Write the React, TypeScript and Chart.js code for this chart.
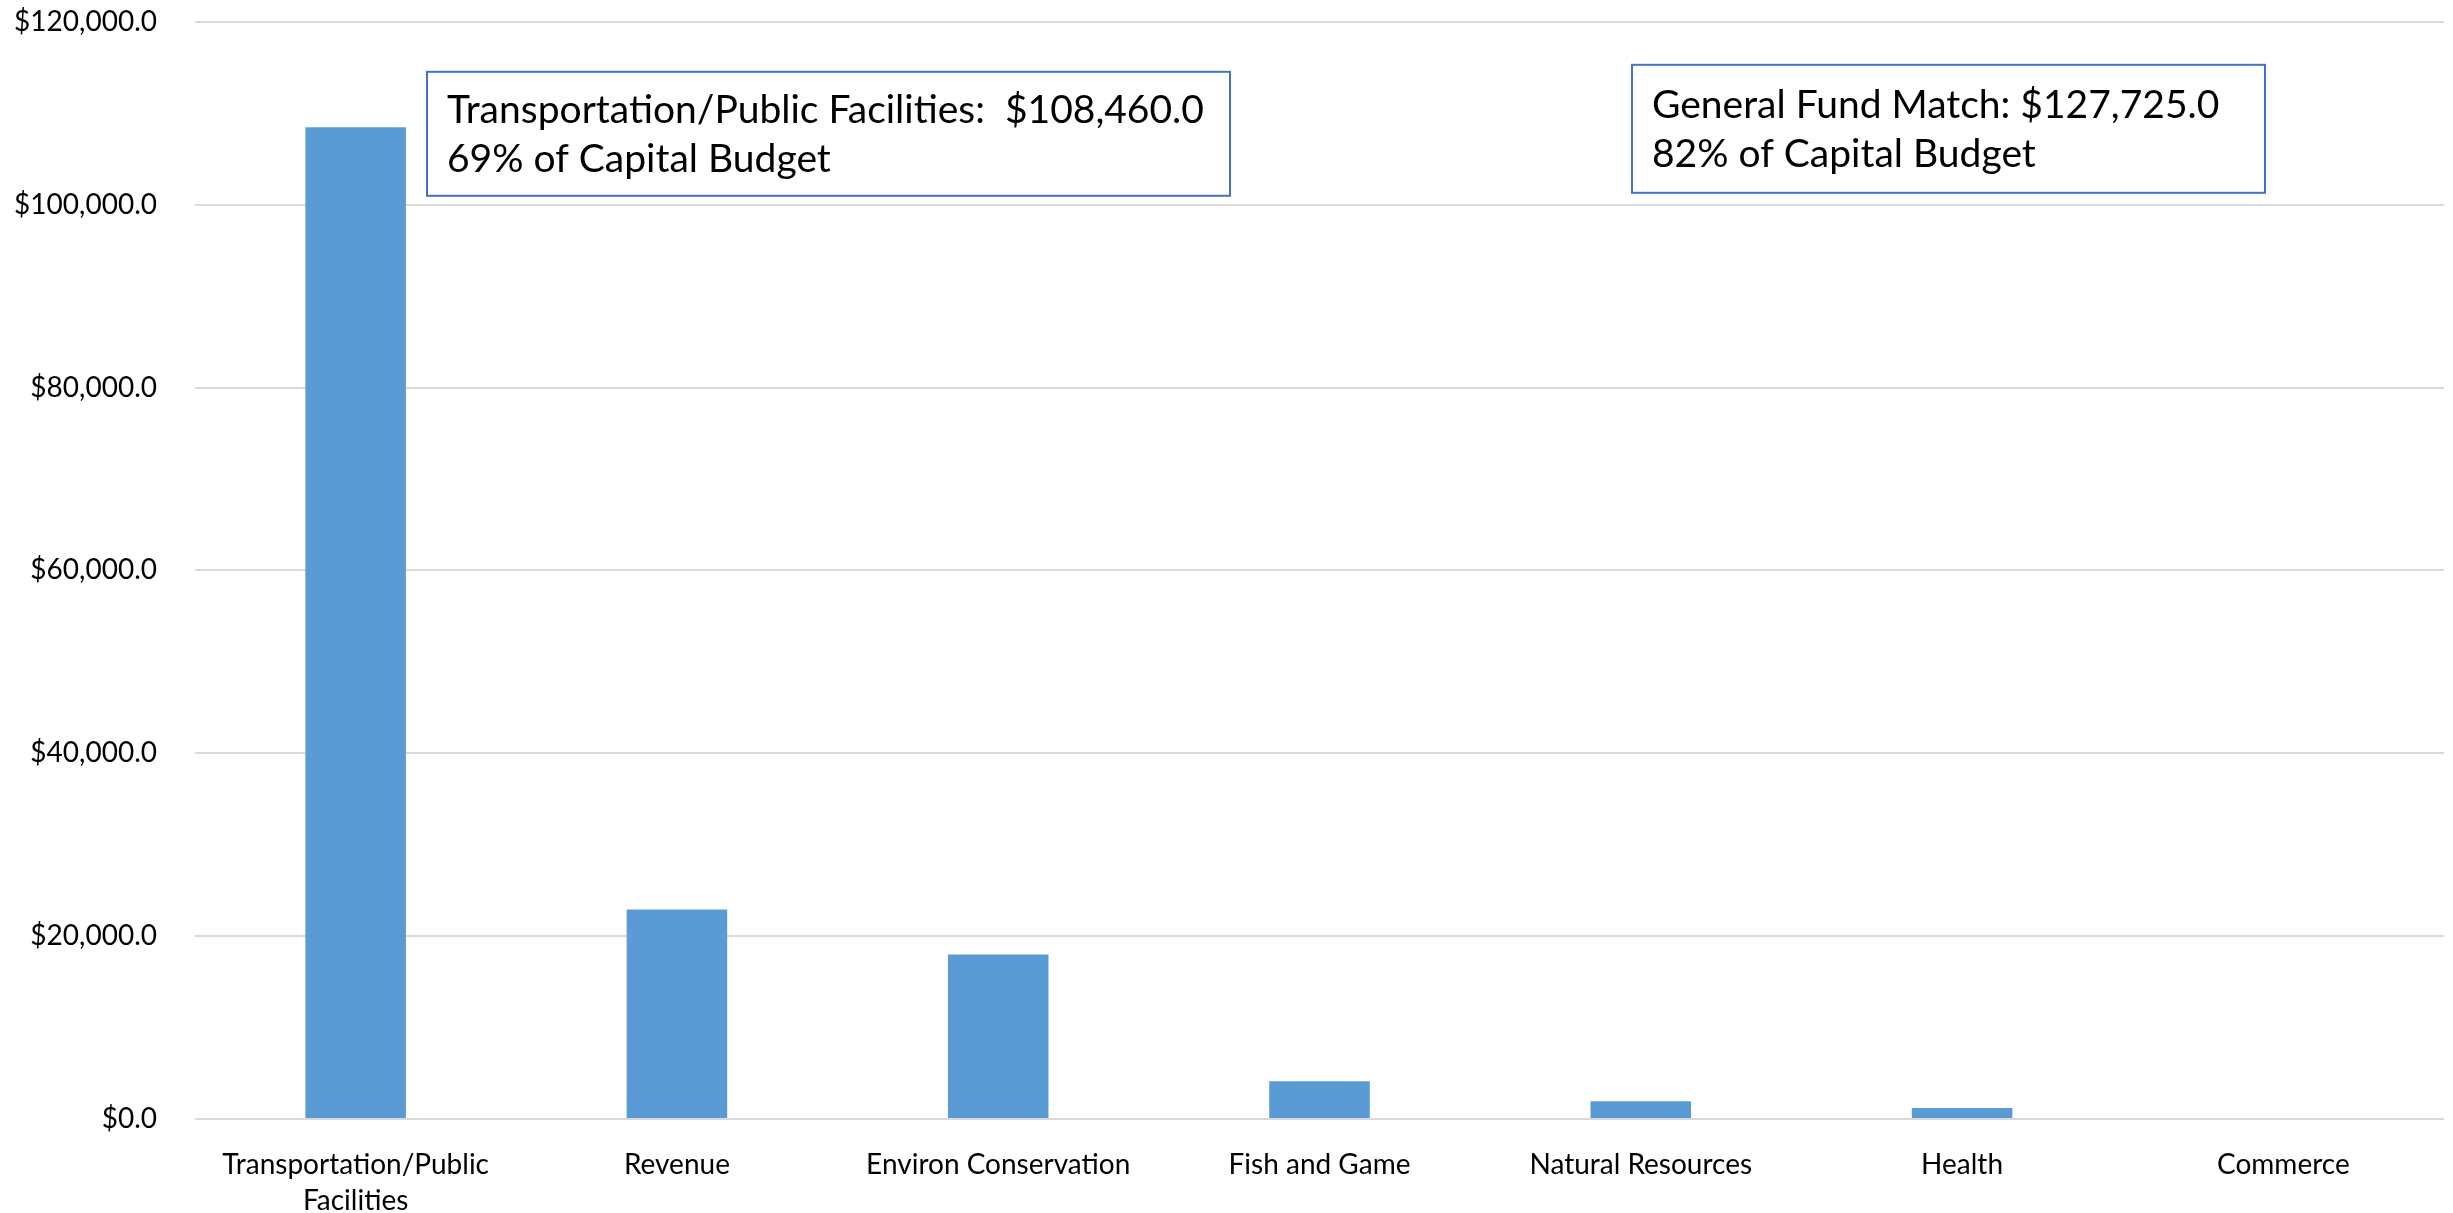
import React, { useEffect, useRef } from "react";
import { Chart, registerables } from "chart.js";

Chart.register(...registerables);

const categories: (string | string[])[] = [
  ["Transportation/Public", "Facilities"],
  "Revenue",
  "Environ Conservation",
  "Fish and Game",
  "Natural Resources",
  "Health",
  "Commerce",
];
const values: number[] = [108460, 22900, 18000, 4130, 1950, 1200, 0];
const yTicks: number[] = [0, 20000, 40000, 60000, 80000, 100000, 120000];
const note1: string[] = ["Transportation/Public Facilities:  $108,460.0", "69% of Capital Budget"];
const note2: string[] = ["General Fund Match: $127,725.0", "82% of Capital Budget"];

const FONT = "Lato, 'Open Sans', sans-serif";
const W = 2453;
const H = 1213;
const SHIFT = 33;

const fmt = (v: number) =>
  "$" + v.toLocaleString("en-US", { minimumFractionDigits: 1, maximumFractionDigits: 1 });

const notesPlugin = {
  id: "notes",
  afterDraw(chart: any) {
    const { ctx, chartArea } = chart;
    const cw = chartArea.right - chartArea.left;
    const top = chartArea.top;
    const boxes = [
      { lines: note1, l: 232 / 2249, t: 50, r: 1035 / 2249, b: 174 },
      { lines: note2, l: 1437 / 2249, t: 43, r: 2070 / 2249, b: 171 },
    ];
    ctx.save();
    ctx.font = `32px ${FONT}`;
    const mw = ctx.measureText(note1[0]).width;
    const size = Math.min(40, (32 * 757) / mw);
    for (const bx of boxes) {
      const x0 = chartArea.left + bx.l * cw;
      const x1 = chartArea.left + bx.r * cw;
      const y0 = top + bx.t;
      const y1 = top + bx.b;
      ctx.fillStyle = "#ffffff";
      ctx.fillRect(x0, y0, x1 - x0, y1 - y0);
      ctx.strokeStyle = "#4472C4";
      ctx.lineWidth = 2;
      ctx.strokeRect(x0, y0, x1 - x0, y1 - y0);
      ctx.fillStyle = "#000000";
      ctx.font = `${size}px ${FONT}`;
      ctx.textBaseline = "middle";
      ctx.textAlign = "left";
      const cy = (y0 + y1) / 2;
      ctx.fillText(bx.lines[0], x0 + 20, cy - 23);
      ctx.fillText(bx.lines[1], x0 + 20, cy + 26);
    }
    ctx.restore();
  },
};

export default function App() {
  const ref = useRef<HTMLCanvasElement | null>(null);
  useEffect(() => {
    document.body.style.margin = "0";
    document.body.style.overflow = "hidden";
    const chart = new Chart(ref.current as HTMLCanvasElement, {
      type: "bar",
      data: {
        labels: categories,
        datasets: [
          {
            data: values,
            backgroundColor: "#5B9BD5",
            barPercentage: 0.313,
            categoryPercentage: 1,
          },
        ],
      },
      options: {
        animation: false,
        responsive: false,
        maintainAspectRatio: false,
        layout: { padding: { top: 0, right: 9, left: 0, bottom: 0 } },
        plugins: { legend: { display: false }, tooltip: { enabled: false } },
        scales: {
          x: {
            grid: { display: false },
            border: { display: false },
            ticks: {
              color: "#000000",
              font: { family: FONT, size: 28, lineHeight: 36 / 28 },
              padding: 20,
              maxRotation: 0,
              autoSkip: false,
            },
            afterFit(scale: any) {
              scale.height = 94;
            },
          },
          y: {
            min: 0,
            max: 120000,
            afterBuildTicks(scale: any) {
              scale.ticks = yTicks.map((v) => ({ value: v }));
            },
            grid: { color: "#D9D9D9", lineWidth: 2, drawTicks: false },
            border: { display: false },
            ticks: {
              color: "#000000",
              font: { family: FONT, size: 28 },
              padding: 38,
              callback: (v: any) => fmt(Number(v)),
            },
            afterFit(scale: any) {
              scale.width = 195;
            },
          },
        },
      },
      plugins: [notesPlugin],
    });
    return () => chart.destroy();
  }, []);
  return (
    <div style={{ position: "absolute", left: 0, top: 0, width: W, height: H, overflow: "hidden", background: "#fff" }}>
      <canvas
        ref={ref}
        width={W}
        height={H + SHIFT}
        style={{ position: "absolute", left: 0, top: -SHIFT, width: W, height: H + SHIFT }}
      />
    </div>
  );
}
